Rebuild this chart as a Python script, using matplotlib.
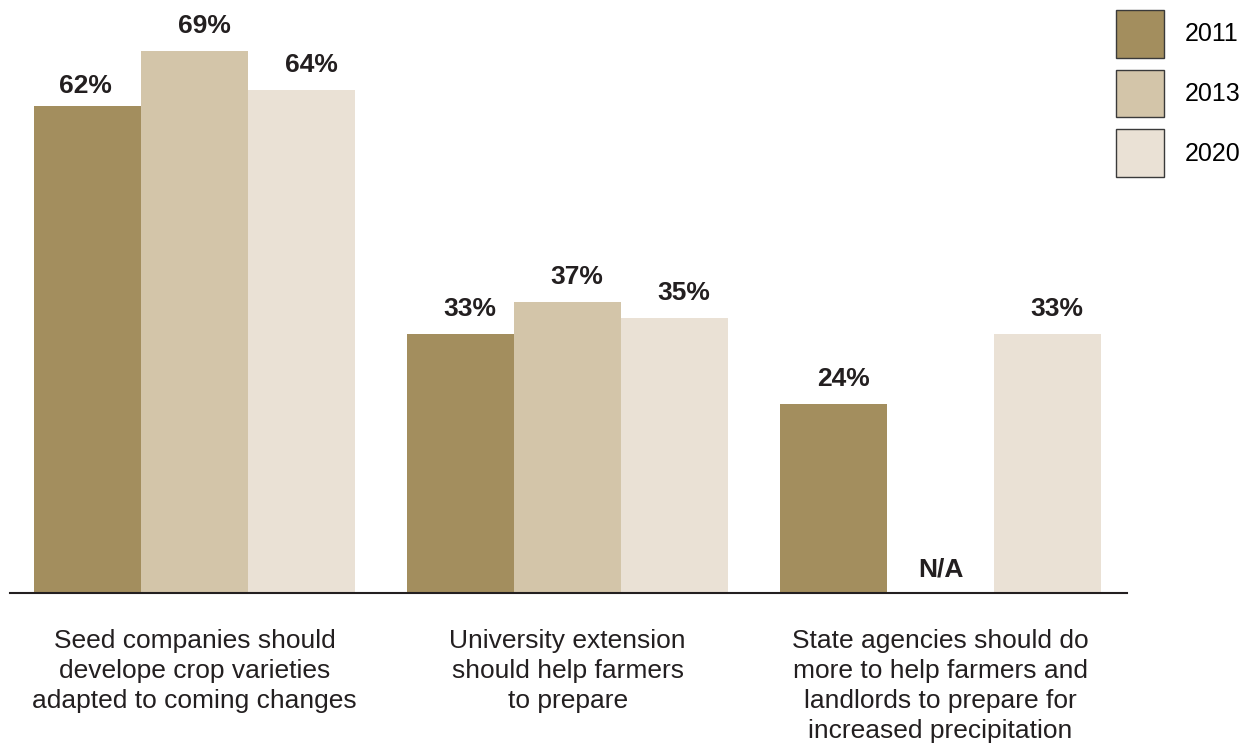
import numpy as np
import matplotlib.pyplot as plt
from matplotlib.patches import Patch

plt.rcParams['font.family'] = ['Liberation Sans', 'DejaVu Sans']

categories = ['Seed companies should\ndevelope crop varieties\nadapted to coming changes',
              'University extension\nshould help farmers\nto prepare',
              'State agencies should do\nmore to help farmers and\nlandlords to prepare for\nincreased precipitation']
years = ['2011', '2013', '2020']
v2011 = [62, 33, 24]
v2013 = [69, 37, None]
v2020 = [64, 35, 33]
colors = ['#a38e5e', '#d3c5a9', '#eae1d5']

fig = plt.figure(figsize=(12.56, 7.44), dpi=100)
ax = fig.add_axes([10/1256, 151/744, 1117/1256, 589.5/744])

x = np.arange(len(categories))
w = 107/373
series = [v2011, v2013, v2020]
for i, vals in enumerate(series):
    pos = x + (i - 1) * w
    for j, (p, v) in enumerate(zip(pos, vals)):
        if v is None:
            ax.text(p, 1.4, 'N/A', ha='center', va='bottom', fontsize=19, fontweight='bold', color='#231f20')
            continue
        ax.bar(p, v, width=w, color=colors[i], edgecolor='none')
        # first label sits lower and a bit left in the original, the rest are nudged right
        off = (-2.5, 8) if (i == 0 and j == 0) else (9.5, 13)
        ax.annotate(f'{v}%', (p, v), xytext=off, textcoords='offset pixels',
                    ha='center', va='bottom', fontsize=19, fontweight='bold', color='#231f20')

ax.set_xlim(-0.495, 2.5)
ax.set_ylim(0, 75)
for s in ['top', 'right', 'left']:
    ax.spines[s].set_visible(False)
ax.spines['bottom'].set_color('#231f20')
ax.spines['bottom'].set_linewidth(1.5)
ax.set_yticks([])
ax.set_xticks(x)
ax.set_xticklabels(categories, fontsize=19, color='#231f20', linespacing=1.32)
ax.tick_params(axis='x', length=0, pad=25.6)

handles = [Patch(facecolor=c, edgecolor='#3a3a3a', linewidth=1) for c in colors]
fig.legend(handles, years, loc='upper left', bbox_to_anchor=(1108.5/1256, 1 - 2.5/744),
           frameon=False, fontsize=18, handlelength=1.92, handleheight=2.56,
           labelspacing=0.48, handletextpad=0.84, borderaxespad=0, borderpad=0.3)

fig.savefig('out.png', dpi=100)
